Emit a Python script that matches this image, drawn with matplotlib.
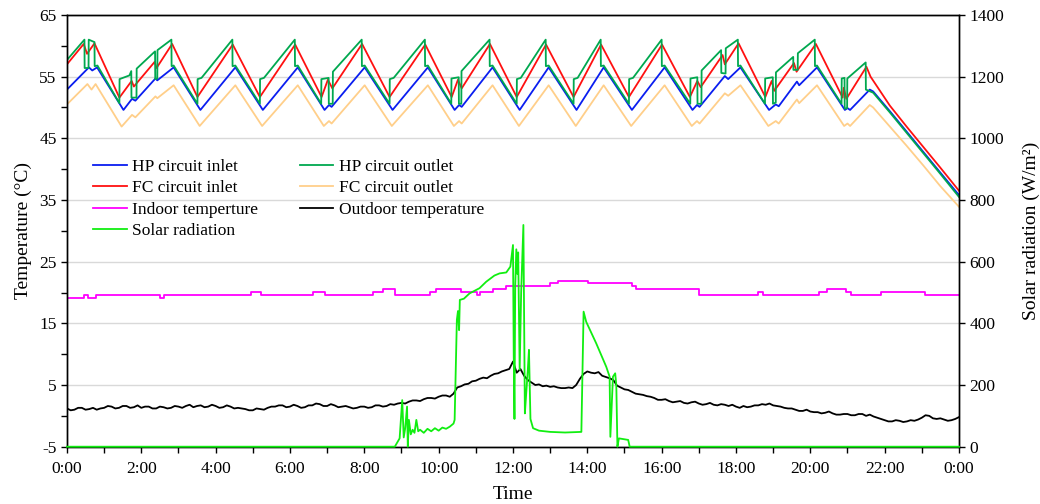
import matplotlib
matplotlib.use('Agg')
import matplotlib.pyplot as plt
from matplotlib.ticker import FixedLocator, MultipleLocator
import numpy as np

## Data (time in hours, temperature in degC, radiation in W/m2)
hp_in = [(0.00, 52.9), (0.59, 56.5), (0.68, 56.0), (0.81, 56.5), (1.52, 49.6),
         (1.75, 51.4), (1.84, 51.1), (2.38, 54.7), (2.43, 54.4), (2.87, 56.5), (3.59, 49.6),
         (4.53, 56.5), (5.27, 49.6), (6.21, 56.5), (6.93, 49.6), (7.05, 50.4), (7.12, 50.1),
         (8.01, 56.5), (8.76, 49.6), (9.71, 56.5), (10.43, 49.6), (10.55, 50.4), (10.62, 50.1),
         (11.45, 56.5), (12.18, 49.6), (12.96, 56.5), (13.71, 49.6), (14.44, 56.5), (15.20, 49.6),
         (16.08, 56.5), (16.83, 49.6), (16.95, 50.4), (17.02, 50.1), (17.70, 55.1), (17.79, 54.6),
         (18.12, 56.5), (18.89, 49.6), (19.07, 50.5), (19.15, 50.2), (19.64, 54.2), (19.70, 53.6),
         (20.18, 56.5), (20.93, 49.6), (21.00, 49.9), (21.07, 49.6), (21.60, 52.9), (21.69, 52.6),
         (22.14, 49.4), (22.59, 46.1), (23.04, 42.8), (23.49, 39.5), (24.00, 35.8)]

hp_out = [(0.00, 57.7), (0.47, 61.0), (0.475, 56.4), (0.58, 56.4), (0.585, 61.0), (0.74, 60.6),
          (0.745, 56.7), (0.82, 56.8),
          (1.41, 50.7), (1.415, 54.6), (1.68, 55.2), (1.73, 55.9), (1.735, 51.6), (1.87, 51.6),
          (1.875, 56.3), (2.37, 59.1), (2.375, 54.6), (2.43, 54.7), (2.435, 59.3), (2.81, 61.0),
          (2.815, 56.7), (2.87, 56.8),
          (3.51, 50.6), (3.515, 54.6), (3.62, 54.8), (4.45, 61.0), (4.455, 56.7), (4.53, 56.8),
          (5.19, 50.6), (5.195, 54.6), (5.30, 54.8), (6.13, 61.0), (6.135, 56.7), (6.21, 56.8),
          (6.84, 50.6), (6.845, 54.6), (7.04, 54.8), (7.045, 50.6), (7.15, 50.6), (7.155, 55.8),
          (7.93, 61.0), (7.935, 56.7), (8.01, 56.8),
          (8.68, 50.6), (8.685, 54.6), (8.79, 54.8), (9.63, 61.0), (9.635, 56.7), (9.71, 56.8),
          (10.34, 50.6), (10.345, 54.7), (10.54, 54.9), (10.545, 50.6), (10.61, 50.6), (10.615, 55.9),
          (11.37, 61.0), (11.375, 56.7), (11.45, 56.8),
          (12.10, 50.6), (12.105, 54.6), (12.21, 54.8), (12.88, 61.0), (12.885, 56.7), (12.96, 56.8),
          (13.63, 50.6), (13.635, 54.6), (13.74, 54.8), (14.36, 61.0), (14.365, 56.7), (14.44, 56.8),
          (15.12, 50.6), (15.125, 54.6), (15.23, 54.8), (16.00, 61.0), (16.005, 56.7), (16.08, 56.8),
          (16.77, 50.6), (16.775, 54.7), (16.96, 54.9), (16.965, 50.6), (17.07, 50.6), (17.075, 56.0),
          (17.60, 59.3), (17.605, 55.6), (17.72, 55.5), (17.725, 59.6), (18.05, 61.0), (18.055, 56.7),
          (18.12, 56.8),
          (18.78, 50.6), (18.785, 54.7), (18.99, 54.9), (18.995, 50.6), (19.07, 50.8), (19.075, 55.7),
          (19.54, 58.2), (19.545, 56.1), (19.66, 56.1), (19.665, 58.8), (20.12, 61.0), (20.125, 56.7),
          (20.18, 56.8),
          (20.84, 50.6), (20.845, 54.7), (20.92, 54.8), (20.925, 49.8), (20.99, 49.9), (20.995, 54.7),
          (21.49, 57.3), (21.495, 52.9), (21.69, 52.4),
          (22.14, 49.2), (22.59, 45.9), (23.04, 42.6), (23.49, 39.3), (24.00, 35.5)]

fc_in = [(0.00, 57.0), (0.45, 60.3), (0.54, 58.7), (0.74, 60.4), (1.41, 51.6),
         (1.74, 54.3), (1.80, 53.4), (2.36, 57.4), (2.41, 56.4), (2.83, 60.3), (3.51, 51.7),
         (4.46, 60.2), (5.19, 51.7), (6.14, 60.2), (6.85, 51.7), (7.02, 54.5), (7.14, 53.1),
         (7.94, 60.3), (8.68, 51.7), (9.64, 60.2), (10.35, 51.7), (10.52, 54.5), (10.62, 53.1),
         (11.38, 60.3), (12.10, 51.7), (12.89, 60.2), (13.63, 51.7), (14.37, 60.2), (15.12, 51.7),
         (16.01, 60.2), (16.76, 51.7), (16.96, 54.3), (17.05, 53.3), (17.64, 58.5), (17.70, 57.0),
         (18.07, 60.4), (18.79, 51.7), (18.96, 54.3), (19.03, 52.7), (19.56, 57.2), (19.63, 55.8),
         (20.15, 60.3), (20.87, 51.6), (20.90, 53.2), (20.97, 51.4), (21.51, 56.6), (21.62, 55.0),
         (22.14, 50.3), (22.59, 46.9), (23.04, 43.6), (23.49, 40.3), (24.00, 36.5)]

fc_out = [(0.00, 50.5), (0.55, 53.8), (0.66, 52.9), (0.77, 53.8), (1.47, 46.9),
          (1.75, 48.8), (1.84, 48.4), (2.38, 51.8), (2.43, 51.5), (2.87, 53.6), (3.57, 47.0),
          (4.53, 53.6), (5.25, 47.0), (6.21, 53.6), (6.91, 47.0), (7.05, 47.8), (7.12, 47.4),
          (8.01, 53.6), (8.74, 47.0), (9.71, 53.6), (10.41, 47.0), (10.55, 47.8), (10.62, 47.4),
          (11.45, 53.6), (12.16, 47.0), (12.96, 53.6), (13.69, 47.0), (14.44, 53.6), (15.18, 47.0),
          (16.08, 53.6), (16.81, 47.0), (16.95, 47.8), (17.02, 47.4), (17.70, 52.3), (17.79, 51.9),
          (18.12, 53.6), (18.87, 47.0), (19.07, 47.8), (19.15, 47.4), (19.64, 51.3), (19.70, 50.7),
          (20.18, 53.6), (20.91, 47.0), (21.00, 47.4), (21.07, 47.0), (21.60, 50.4), (21.69, 50.0),
          (22.14, 46.9), (22.59, 43.8), (23.04, 40.6), (23.49, 37.3), (24.00, 33.9)]

# indoor temperature is a step signal: value holds until the next time
indoor = [(0.00, 19.05), (0.47, 19.55), (0.56, 19.05), (0.79, 19.55), (2.49, 19.05), (2.62, 19.55),
          (4.94, 20.05), (5.23, 19.55), (6.62, 20.05), (6.93, 19.55), (8.23, 20.05), (8.50, 20.55),
          (8.82, 19.55), (9.76, 20.05), (9.94, 20.55), (10.61, 20.05), (11.02, 19.55), (11.10, 20.05),
          (11.46, 20.55), (11.82, 21.05), (12.99, 21.5), (13.21, 21.9), (14.02, 21.6), (15.19, 21.05),
          (15.30, 20.55), (17.00, 19.55), (18.60, 20.05), (18.72, 19.55), (20.24, 20.05), (20.45, 20.55),
          (20.97, 20.05), (21.10, 19.55), (21.90, 20.05), (23.08, 19.55), (24.00, 19.55)]

# outdoor temperature sampled every 6 minutes
outdoor = [1.2, 0.9, 1.0, 1.3, 1.3, 1.0, 1.1, 1.3, 1.0, 1.2, 1.3, 1.6,
           1.5, 1.2, 1.3, 1.6, 1.6, 1.3, 1.4, 1.7, 1.3, 1.5, 1.5, 1.2,
           1.2, 1.5, 1.4, 1.2, 1.3, 1.6, 1.5, 1.3, 1.6, 1.8, 1.4, 1.6,
           1.7, 1.4, 1.5, 1.8, 1.6, 1.3, 1.4, 1.7, 1.5, 1.2, 1.3, 1.2,
           1.1, 0.9, 0.9, 1.2, 1.1, 1.0, 1.3, 1.5, 1.5, 1.7, 1.7, 1.4,
           1.5, 1.8, 1.6, 1.3, 1.4, 1.7, 1.7, 2.0, 1.9, 1.6, 1.6, 1.9,
           1.7, 1.4, 1.5, 1.6, 1.4, 1.2, 1.3, 1.5, 1.5, 1.3, 1.4, 1.7,
           1.7, 1.5, 1.6, 1.9, 1.8, 2.0, 2.1, 2.0, 2.3, 2.5, 2.5, 2.4,
           2.7, 2.9, 2.9, 2.8, 3.1, 3.3, 3.3, 3.1, 3.6, 4.6, 4.8, 5.1,
           5.2, 5.6, 5.7, 6.0, 6.2, 6.1, 6.5, 6.8, 6.9, 7.2, 7.4, 7.6,
           8.8, 7.0, 7.6, 6.5, 5.8, 5.4, 5.0, 5.1, 4.8, 4.9, 4.7, 4.8,
           4.6, 4.5, 4.5, 4.6, 4.5, 5.0, 6.0, 6.8, 7.2, 7.0, 6.9, 7.1,
           6.5, 6.3, 6.1, 5.8, 4.9, 4.6, 4.3, 4.2, 3.9, 3.6, 3.5, 3.4,
           3.2, 3.1, 2.9, 2.6, 2.6, 2.7, 2.4, 2.2, 2.3, 2.4, 2.1, 2.0,
           2.2, 2.3, 2.0, 1.8, 1.9, 2.1, 1.8, 1.7, 1.9, 1.8, 1.6, 1.8,
           1.5, 1.3, 1.6, 1.4, 1.5, 1.7, 1.7, 1.9, 1.8, 2.0, 1.7, 1.6,
           1.5, 1.3, 1.2, 1.2, 1.0, 0.8, 0.8, 1.0, 0.7, 0.6, 0.6, 0.4,
           0.5, 0.7, 0.4, 0.2, 0.2, 0.3, 0.3, 0.1, 0.1, 0.3, 0.3, 0.0,
           0.2, -0.1, -0.3, -0.5, -0.7, -0.9, -0.9, -0.7, -0.8, -1.0, -0.9, -0.7,
           -0.8, -0.6, -0.3, 0.1, 0.0, -0.4, -0.5, -0.4, -0.6, -0.8, -0.7, -0.5,
           -0.2]
outdoor_time = np.linspace(0, 24, len(outdoor))

solar = [(0.00, 0), (8.82, 0), (8.95, 27), (9.02, 151), (9.06, 30), (9.10, 60), (9.15, 130),
         (9.17, 0), (9.20, 87), (9.25, 40), (9.30, 55), (9.35, 45), (9.40, 87), (9.45, 50),
         (9.50, 55), (9.60, 45), (9.70, 58), (9.80, 50), (9.90, 60), (10.00, 52), (10.10, 62),
         (10.20, 58), (10.30, 65), (10.40, 75), (10.43, 87), (10.49, 411), (10.52, 440),
         (10.55, 378), (10.57, 476), (10.68, 480), (10.83, 497), (11.10, 514), (11.28, 535),
         (11.50, 555), (11.64, 562), (11.82, 565), (11.93, 584), (12.00, 654), (12.02, 300),
         (12.04, 90), (12.06, 520), (12.09, 640), (12.12, 560), (12.14, 630), (12.18, 250),
         (12.22, 500), (12.28, 719), (12.32, 108), (12.36, 180), (12.40, 250), (12.43, 314),
         (12.47, 90), (12.54, 60), (12.70, 52), (13.00, 48), (13.40, 46), (13.84, 48),
         (13.90, 438), (13.97, 405), (14.24, 335), (14.51, 259), (14.60, 227), (14.62, 32),
         (14.69, 227), (14.75, 238), (14.78, 200), (14.81, 0), (14.85, 27), (15.10, 22),
         (15.14, 0), (24.00, 0)]

x_ticks = list(range(0, 25, 2))
x_tick_labels = ["0:00", "2:00", "4:00", "6:00", "8:00", "10:00", "12:00",
                 "14:00", "16:00", "18:00", "20:00", "22:00", "0:00"]

## Style
plt.rcdefaults()
plt.rcParams['font.family'] = ['Liberation Serif', 'DejaVu Serif']
plt.rcParams['axes.linewidth'] = 1.0
plt.rcParams['axes.unicode_minus'] = False

fig = plt.figure(figsize=(10.4, 5.04), dpi=100)
ax = fig.add_axes([0.0644, 0.1137, 0.8577, 0.8566])
ax2 = ax.twinx()

def xy(pairs):
    t, v = zip(*pairs)
    return list(t), list(v)

## Plot temperatures on the left axis
l_fco, = ax.plot(*xy(fc_out), color='#FFCF8A', lw=1.3, label='FC circuit outlet')
l_hpi, = ax.plot(*xy(hp_in), color='#0A1EF0', lw=1.3, label='HP circuit inlet')
l_fci, = ax.plot(*xy(fc_in), color='#FF1010', lw=1.3, label='FC circuit inlet')
l_hpo, = ax.plot(*xy(hp_out), color='#00A84F', lw=1.3, label='HP circuit outlet')
t_in, v_in = xy(indoor)
l_ind, = ax.plot(t_in, v_in, drawstyle='steps-post', color='#FF00FF', lw=1.3,
                 label='Indoor temperture')
l_out, = ax.plot(outdoor_time, outdoor, color='black', lw=1.3, label='Outdoor temperature')

## Solar radiation on the right axis
l_sol, = ax2.plot(*xy(solar), color='#11EE11', lw=1.3, label='Solar radiation',
                  clip_on=False, zorder=3)

## Axes limits, ticks and grid
ax.set_xlim(0, 24)
ax.set_ylim(-5, 65)
ax2.set_ylim(0, 1400)
ax.xaxis.set_major_locator(FixedLocator(x_ticks))
ax.set_xticklabels(x_tick_labels)
ax.xaxis.set_minor_locator(MultipleLocator(1))
ax.yaxis.set_major_locator(FixedLocator(list(range(-5, 66, 10))))
ax.yaxis.set_minor_locator(MultipleLocator(5))
ax2.yaxis.set_major_locator(MultipleLocator(200))

ax.yaxis.grid(True, which='major', color='#d9d9d9', lw=1.0)
ax.set_axisbelow(True)

for a in (ax, ax2):
    a.tick_params(which='both', direction='out', length=4, width=1, labelsize=12.5,
                  colors='black')
ax.tick_params(axis='x', pad=6)

ax.set_xlabel("Time", fontsize=14, labelpad=7)
ax.set_ylabel("Temperature (°C)", fontsize=14, labelpad=5)
ax2.set_ylabel("Solar radiation (W/m²)", fontsize=14, labelpad=13)

## Legend: two columns, filled row by row
handles = [l_hpi, l_fci, l_ind, l_sol, l_hpo, l_fco, l_out]
ax2.legend(handles=handles, labels=[h.get_label() for h in handles], ncol=2,
           loc='upper left', bbox_to_anchor=(0.029, 0.667), frameon=False,
           fontsize=12.5, handlelength=1.95, handletextpad=0.3, columnspacing=2.4,
           labelspacing=0.3, borderpad=0, borderaxespad=0)

plt.savefig("out.png", dpi=100)
